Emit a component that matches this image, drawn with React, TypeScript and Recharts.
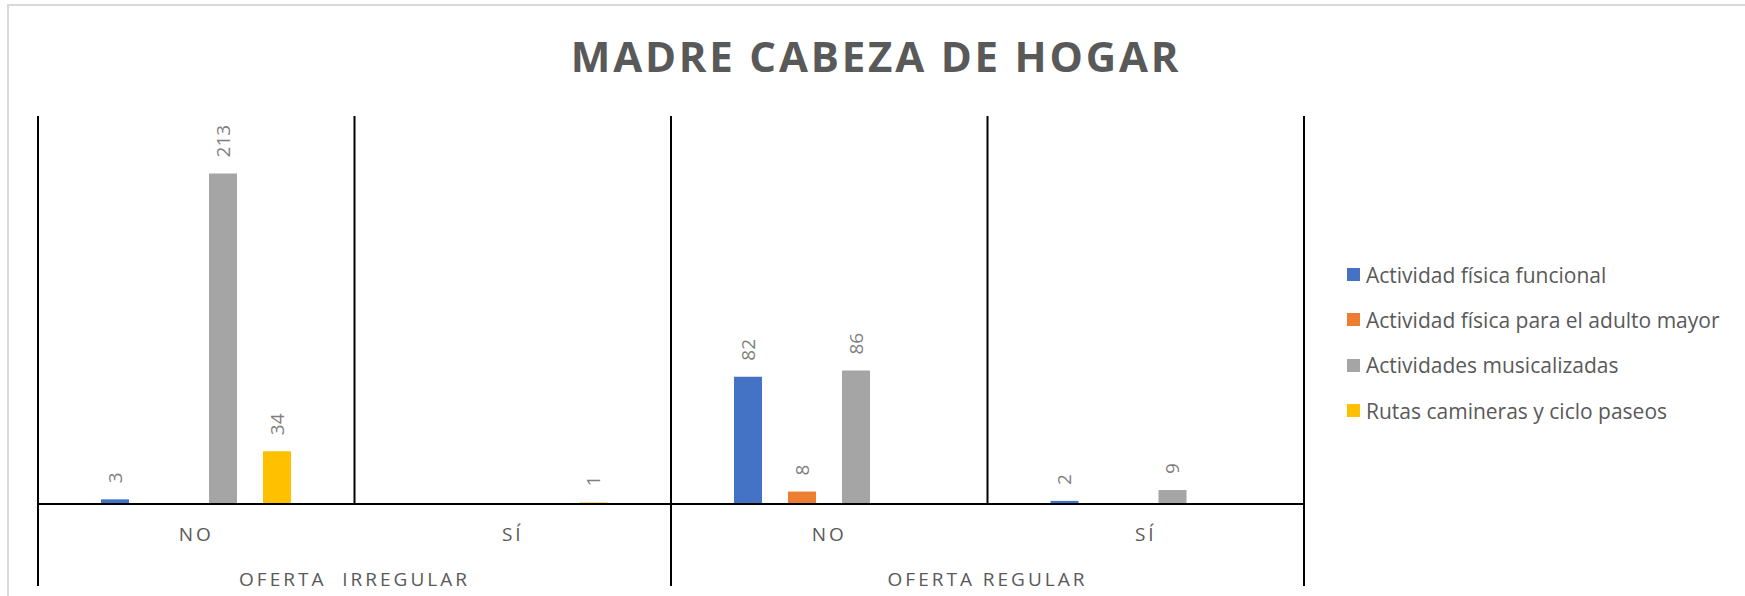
import React from "react";
import { BarChart, Bar, XAxis, YAxis, ReferenceLine, Legend, LabelList } from "recharts";

const chartTitle = "MADRE CABEZA DE HOGAR";
const groupLabels = ["OFERTA  IRREGULAR", "OFERTA REGULAR"];
const categoryLabels = ["NO", "SÍ", "NO", "SÍ"];
const categoryGroup = [0, 0, 1, 1];
const seriesNames = [
  "Actividad física funcional",
  "Actividad física para el adulto mayor",
  "Actividades musicalizadas",
  "Rutas camineras y ciclo paseos",
];
const seriesColors = ["#4472C4", "#ED7D31", "#A5A5A5", "#FFC000"];
const actividadFuncional = [3, 0, 82, 2];
const actividadAdultoMayor = [0, 0, 8, 0];
const actividadesMusicalizadas = [213, 0, 86, 9];
const rutasCamineras = [34, 1, 0, 0];
const yDomain = [0, 250];

const seriesValues = [actividadFuncional, actividadAdultoMayor, actividadesMusicalizadas, rutasCamineras];
const seriesKeys = ["s0", "s1", "s2", "s3"];

const data = categoryLabels.map((cat, i) => {
  const row: any = { key: `${groupLabels[categoryGroup[i]]}|${cat}|${i}`, idx: i };
  seriesKeys.forEach((k, s) => {
    row[k] = seriesValues[s][i];
  });
  return row;
});

const TEXT = "#595959";
const FONT = "'Open Sans', sans-serif";

const CategoryTick = (props: any) => {
  const { x, y, payload } = props;
  const i = data.findIndex((d) => d.key === payload.value);
  const half = payload && payload.offset ? payload.offset : 158;
  const g = categoryGroup[i];
  const firstOfGroup = i === 0 || categoryGroup[i - 1] !== g;
  return (
    <g>
      <text x={x} y={y + 37} textAnchor="middle" fill={TEXT} fontSize={19} letterSpacing={3} fontFamily={FONT}>
        {categoryLabels[i]}
      </text>
      {firstOfGroup && (
        <line x1={x - half} x2={x - half} y1={y} y2={y + 82} stroke="#000" strokeWidth={2} />
      )}
      {firstOfGroup && (
        <text x={x + half} y={y + 82} textAnchor="middle" fill={TEXT} fontSize={19} letterSpacing={3} fontFamily={FONT} style={{ whiteSpace: "pre" }}>
          {groupLabels[g]}
        </text>
      )}
      {i === data.length - 1 && (
        <line x1={x + half} x2={x + half} y1={y} y2={y + 82} stroke="#000" strokeWidth={2} />
      )}
    </g>
  );
};

const ValueLabel = (props: any) => {
  const vb = props.viewBox || {};
  const x = props.x ?? vb.x;
  const y = props.y ?? vb.y;
  const width = props.width ?? vb.width;
  const value = props.value;
  if (!value) return null;
  const cx = x + width / 2;
  const cy = y - 16;
  return (
    <text
      x={cx}
      y={cy}
      transform={`rotate(-90 ${cx} ${cy})`}
      textAnchor="start"
      dominantBaseline="central"
      fill="#7F7F7F"
      fontSize={19}
      fontFamily={FONT}
    >
      {value}
    </text>
  );
};

const LegendContent = () => (
  <div style={{ fontFamily: FONT }}>
    {seriesNames.map((name, s) => (
      <div key={name} style={{ display: "flex", alignItems: "center", height: 45.3 }}>
        <div style={{ width: 13, height: 13, background: seriesColors[s], marginRight: 6 }} />
        <span style={{ fontSize: 21, color: TEXT, whiteSpace: "nowrap" }}>{name}</span>
      </div>
    ))}
  </div>
);

export default function App() {
  return (
    <div
      style={{
        position: "absolute",
        left: 0,
        top: 0,
        width: 1745,
        height: 596,
        overflow: "hidden",
        background: "#fff",
      }}
    >
      <div
        style={{
          position: "absolute",
          left: 7,
          top: 4,
          width: 1800,
          height: 700,
          borderLeft: "2px solid #d9d9d9",
          borderTop: "2px solid #d9d9d9",
        }}
      />
      <div
        style={{
          position: "absolute",
          left: 0,
          top: 35,
          width: 1752,
          textAlign: "center",
          fontFamily: FONT,
          fontWeight: 700,
          fontSize: 42,
          lineHeight: "42px",
          letterSpacing: 2.8,
          color: TEXT,
          whiteSpace: "nowrap",
        }}
      >
        {chartTitle}
      </div>
      <div style={{ position: "absolute", left: 0, top: 0 }}>
        <BarChart
          width={1745}
          height={596}
          data={data}
          margin={{ top: 116, left: 38, right: 441, bottom: 0 }}
          barSize={28}
          barGap={26}
        >
          <XAxis
            dataKey="key"
            height={92}
            interval={0}
            tickLine={false}
            tickSize={0}
            tickMargin={0}
            axisLine={{ stroke: "#000", strokeWidth: 2 }}
            tick={<CategoryTick />}
          />
          <YAxis hide domain={yDomain} />
          {data.map((d) => (
            <ReferenceLine key={d.key} x={d.key} position="start" stroke="#000" strokeWidth={2} />
          ))}
          <ReferenceLine x={data[data.length - 1].key} position="end" stroke="#000" strokeWidth={2} />
          {seriesKeys.map((k, s) => (
            <Bar key={k} dataKey={k} name={seriesNames[s]} fill={seriesColors[s]} isAnimationActive={false}>
              <LabelList dataKey={k} content={<ValueLabel />} />
            </Bar>
          ))}
          <Legend
            layout="vertical"
            align="center"
            verticalAlign="middle"
            wrapperStyle={{ left: 1347, top: 252, width: 398 }}
            content={<LegendContent />}
          />
        </BarChart>
      </div>
    </div>
  );
}
